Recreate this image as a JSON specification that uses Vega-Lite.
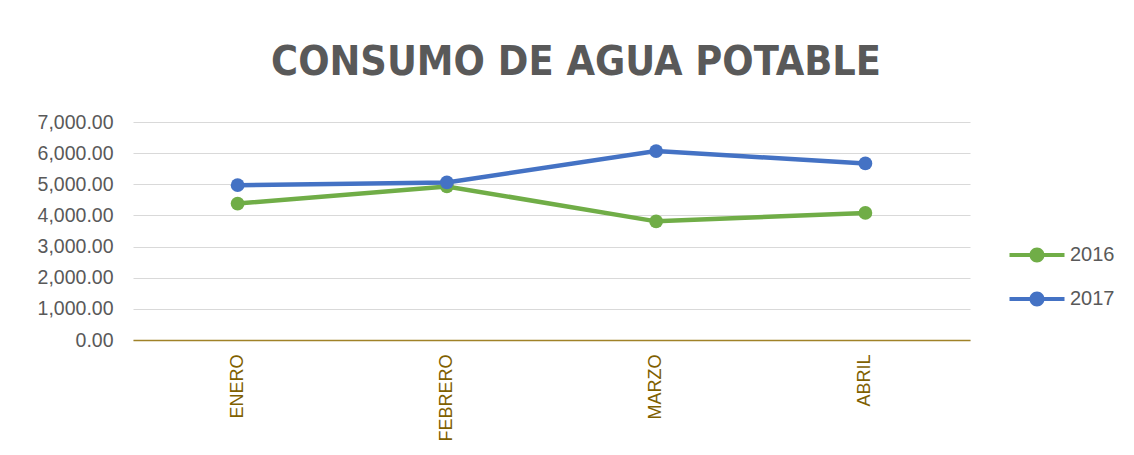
{
  "$schema": "https://vega.github.io/schema/vega-lite/v6.json",
  "width": 837,
  "height": 218,
  "autosize": {"type": "none"},
  "padding": {"left": 133, "top": 122, "right": 164, "bottom": 115},
  "background": "white",
  "title": {
    "text": "CONSUMO DE AGUA POTABLE",
    "font": "DejaVu Sans Condensed",
    "fontSize": 41,
    "fontWeight": "bold",
    "color": "#595959",
    "anchor": "middle",
    "frame": "bounds",
    "offset": 28
  },
  "data": {
    "values": [
      {"mes": "ENERO", "anio": "2016", "valor": 4380},
      {"mes": "FEBRERO", "anio": "2016", "valor": 4930},
      {"mes": "MARZO", "anio": "2016", "valor": 3810},
      {"mes": "ABRIL", "anio": "2016", "valor": 4080},
      {"mes": "ENERO", "anio": "2017", "valor": 4970},
      {"mes": "FEBRERO", "anio": "2017", "valor": 5060},
      {"mes": "MARZO", "anio": "2017", "valor": 6065},
      {"mes": "ABRIL", "anio": "2017", "valor": 5670}
    ]
  },
  "mark": {"type": "line", "strokeWidth": 4.5, "point": {"size": 190, "filled": true, "opacity": 1}},
  "encoding": {
    "x": {
      "field": "mes",
      "type": "nominal",
      "sort": ["ENERO", "FEBRERO", "MARZO", "ABRIL"],
      "scale": {"type": "band", "paddingInner": 0, "paddingOuter": 0},
      "axis": {
        "title": null,
        "labelAngle": -90,
        "labelFont": "Liberation Sans",
        "labelFontSize": 18,
        "labelColor": "#7F6000",
        "labelPadding": 14,
        "ticks": false,
        "grid": false,
        "domainColor": "#A08228",
        "domainWidth": 1.5
      }
    },
    "y": {
      "field": "valor",
      "type": "quantitative",
      "scale": {"domain": [0, 7000], "nice": false},
      "axis": {
        "title": null,
        "values": [0, 1000, 2000, 3000, 4000, 5000, 6000, 7000],
        "format": ",.2f",
        "labelFont": "Liberation Sans",
        "labelFontSize": 19.5,
        "labelColor": "#595959",
        "labelPadding": 20,
        "ticks": false,
        "domain": false,
        "gridColor": "#D9D9D9",
        "gridWidth": 1
      }
    },
    "color": {
      "field": "anio",
      "type": "nominal",
      "scale": {"domain": ["2016", "2017"], "range": ["#70AD47", "#4472C4"]},
      "legend": {
        "title": null,
        "orient": "none",
        "legendX": 894,
        "legendY": 123,
        "padding": 0,
        "symbolType": "M-2.75,-0.2H2.75V0.2H-2.75Z M0.75,0A0.75,0.75,0,1,1,-0.75,0A0.75,0.75,0,1,1,0.75,0Z",
        "symbolSize": 400,
        "symbolStrokeWidth": 0,
        "symbolOpacity": 1,
        "labelOffset": 23,
        "labelFont": "Liberation Sans",
        "labelFontSize": 20,
        "labelColor": "#595959",
        "rowPadding": 24
      }
    }
  },
  "config": {"view": {"stroke": null}}
}
